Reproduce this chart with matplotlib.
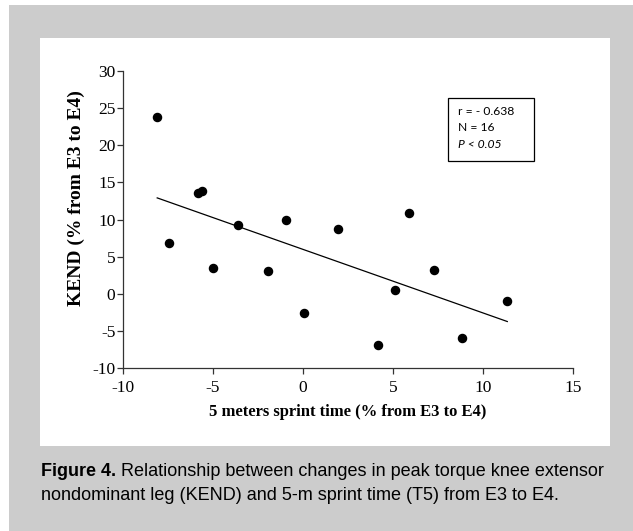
import matplotlib.pyplot as plt
from matplotlib.patches import Rectangle
import numpy as np

plt.rcParams['axes.unicode_minus'] = False

# % change in 5 m sprint time and KEND (E3 -> E4)
sprint_change = [-8.1, -7.45, -5.85, -5.63, -5.0, -3.63, -1.96, -0.96,
                 0.04, 1.93, 5.91, 7.26, 5.09, 11.35, 4.15, 8.82]
kend_change = [23.8, 6.8, 13.6, 13.8, 3.45, 9.3, 3.0, 10.0,
               -2.65, 8.7, 10.9, 3.2, 0.5, -1.0, -6.9, -6.0]
x_ticks = [-10, -5, 0, 5, 10, 15]
y_ticks = [-10, -5, 0, 5, 10, 15, 20, 25, 30]
stats_lines = ['r = - 0.638', 'N = 16', 'P < 0.05']

fig = plt.figure(figsize=(6.33, 5.31), dpi=100)
fig.patch.set_facecolor('white')

# grey frame and white panel behind the chart
fig.patches.append(Rectangle((9 / 633, 0), 1, 1 - 5 / 531, transform=fig.transFigure,
                             facecolor='#cccccc', edgecolor='none', zorder=-3))
fig.patches.append(Rectangle((40 / 633, 1 - 446 / 531), (610 - 40) / 633, (446 - 38) / 531,
                             transform=fig.transFigure, facecolor='white',
                             edgecolor='none', zorder=-2))

ax = fig.add_axes([123 / 633, 1 - 368 / 531, 450 / 633, 297 / 531])
ax.set_facecolor('none')

ax.scatter(sprint_change, kend_change, s=34, color='black', zorder=3)

slope, icpt = np.polyfit(sprint_change, kend_change, 1)
xs = np.array([min(sprint_change), max(sprint_change)])
ax.plot(xs, slope * xs + icpt, color='black', lw=0.9)

ax.set_xlim(-10, 15)
ax.set_ylim(-10, 30)
ax.set_xticks(x_ticks)
ax.set_yticks(y_ticks)
for s in ['top', 'right']:
    ax.spines[s].set_visible(False)
for s in ['left', 'bottom']:
    ax.spines[s].set_color('#333333')
    ax.spines[s].set_linewidth(0.9)
ax.tick_params(direction='out', length=4, width=0.9, color='#333333')
for lab in ax.get_xticklabels() + ax.get_yticklabels():
    lab.set_fontfamily('Liberation Serif')
    lab.set_fontsize(12.5)
ax.tick_params(axis='x', pad=5)
ax.tick_params(axis='y', pad=1.5)

fig.text(348 / 633, 1 - 412 / 531, '5 meters sprint time (% from E3 to E4)',
         family='Liberation Serif', weight='bold', fontsize=12, ha='center', va='center')
fig.text(76 / 633, 1 - 198 / 531, 'KEND (% from E3 to E4)', rotation=90,
         family='Liberation Serif', weight='bold', fontsize=14, ha='center', va='center')

# stats box
ax.add_patch(Rectangle((0.722, 0.697), 0.191, 0.212, transform=ax.transAxes,
                       facecolor='white', edgecolor='black', lw=0.9, zorder=4))
for i, txt in enumerate(stats_lines):
    ax.text(0.744, 0.865 - i * 0.056, txt, transform=ax.transAxes, family='Lato',
            fontsize=8.7, style='italic' if i == 2 else 'normal',
            ha='left', va='center', zorder=5)

# caption: bold lead-in, then regular text right after it
fig.canvas.draw()
renderer = fig.canvas.get_renderer()
lead = fig.text(41 / 633, 1 - 472 / 531, 'Figure 4.', family='Liberation Sans',
                weight='bold', fontsize=13, ha='left', va='center')
bb = lead.get_window_extent(renderer)
fig.text((bb.x1 + 5) / 633, 1 - 472 / 531,
         'Relationship between changes in peak torque knee extensor',
         family='Liberation Sans', fontsize=13, ha='left', va='center')
fig.text(41 / 633, 1 - 495 / 531,
         'nondominant leg (KEND) and 5-m sprint time (T5) from E3 to E4.',
         family='Liberation Sans', fontsize=13, ha='left', va='center')

fig.savefig('out.png', dpi=100)
